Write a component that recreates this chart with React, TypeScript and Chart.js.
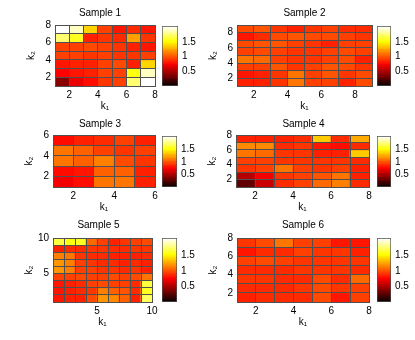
import React, { useEffect, useRef } from 'react';
import { Chart, registerables } from 'chart.js';

Chart.register(...registerables);

// ---------- data ----------
const TITLES = ['Sample 1', 'Sample 2', 'Sample 3', 'Sample 4', 'Sample 5', 'Sample 6'];
const X_LABEL = 'k\u2081';
const Y_LABEL = 'k\u2082';

// rows listed from k2 = 1 (bottom) upward, columns k1 = 1..n
const SAMPLE1 = [
  [0.39, 0.70, 0.80, 0.92, 0.94, 1.75, 2.05],
  [0.74, 0.81, 0.85, 0.94, 0.95, 1.56, 1.90],
  [0.83, 0.85, 0.86, 0.95, 0.98, 0.86, 1.40],
  [0.95, 0.94, 0.92, 0.94, 0.92, 0.90, 0.94],
  [0.95, 0.95, 0.98, 0.95, 0.92, 0.86, 0.81],
  [1.75, 1.60, 0.86, 0.92, 0.89, 1.23, 0.92],
  [2.05, 1.90, 1.39, 0.95, 0.83, 0.89, 0.83],
];
const SAMPLE2 = [
  [0.85, 0.85, 0.91, 1.12, 0.95, 0.94, 0.85, 0.98],
  [0.83, 0.86, 0.92, 1.10, 0.95, 1.01, 0.91, 0.97],
  [0.94, 0.95, 1.01, 0.92, 0.94, 1.01, 0.98, 0.91],
  [1.10, 1.07, 0.94, 0.91, 0.92, 0.95, 0.97, 0.85],
  [0.95, 0.98, 0.94, 0.91, 0.92, 0.94, 0.97, 0.94],
  [0.97, 1.00, 1.00, 0.95, 0.91, 0.85, 0.95, 0.95],
  [0.83, 0.89, 0.97, 1.01, 0.98, 0.98, 0.94, 0.92],
  [0.98, 1.01, 0.92, 0.86, 0.91, 0.94, 0.89, 0.87],
];
const SAMPLE3 = [
  [0.72, 0.78, 1.12, 1.09, 0.86],
  [0.80, 0.82, 1.03, 1.03, 0.86],
  [1.09, 1.03, 1.13, 0.97, 0.92],
  [1.10, 1.04, 0.94, 0.92, 0.95],
  [0.80, 0.86, 0.89, 0.94, 0.86],
];
const SAMPLE4 = [
  [0.27, 0.60, 0.89, 0.95, 1.07, 1.13, 0.88],
  [0.54, 0.72, 0.91, 0.95, 1.01, 1.10, 0.86],
  [0.92, 0.95, 1.10, 0.95, 0.92, 0.94, 0.86],
  [0.94, 0.95, 0.92, 0.92, 0.91, 0.92, 0.89],
  [1.10, 1.07, 0.92, 0.91, 0.85, 0.86, 1.37],
  [1.16, 1.16, 0.89, 0.92, 0.82, 0.79, 0.89],
  [0.85, 0.86, 0.85, 0.89, 1.37, 0.89, 1.25],
];
const SAMPLE5 = [
  [0.83, 0.86, 0.86, 0.98, 1.19, 1.16, 1.04, 0.86, 1.70],
  [0.83, 0.86, 0.88, 0.92, 1.13, 1.04, 1.01, 0.89, 1.59],
  [0.83, 0.85, 0.89, 0.94, 0.98, 0.95, 0.94, 0.89, 1.65],
  [0.95, 0.95, 0.97, 0.95, 0.95, 0.97, 0.95, 0.98, 1.10],
  [1.21, 1.15, 0.95, 0.94, 0.92, 0.91, 0.89, 0.92, 0.86],
  [1.19, 1.13, 0.94, 0.91, 0.89, 0.88, 0.86, 0.89, 0.86],
  [1.13, 1.10, 0.92, 0.89, 0.88, 0.86, 0.85, 0.86, 0.88],
  [0.86, 0.89, 0.88, 0.92, 0.91, 0.89, 0.88, 0.91, 0.92],
  [1.65, 1.56, 1.60, 1.07, 0.95, 0.86, 0.92, 0.95, 0.98],
];
const SAMPLE6 = [
  [0.86, 0.88, 0.88, 0.89, 0.97, 0.83, 0.95],
  [0.88, 0.89, 0.88, 0.91, 0.98, 0.91, 0.95],
  [0.91, 0.91, 0.89, 0.89, 0.97, 0.89, 1.07],
  [0.89, 0.89, 0.88, 0.92, 0.92, 0.92, 0.89],
  [0.94, 0.97, 0.95, 0.92, 0.91, 0.92, 0.91],
  [0.82, 0.88, 0.89, 0.94, 0.91, 0.91, 0.85],
  [0.92, 0.97, 1.10, 0.95, 0.94, 0.83, 0.83],
];
const SAMPLES = [SAMPLE1, SAMPLE2, SAMPLE3, SAMPLE4, SAMPLE5, SAMPLE6];

const TICKS_8 = [2, 4, 6, 8];
const TICKS_6 = [2, 4, 6];
const TICKS_10 = [5, 10];
const X_TICKS = [TICKS_8, TICKS_8, TICKS_6, TICKS_8, TICKS_10, TICKS_8];
const Y_TICKS = [TICKS_8, TICKS_8, TICKS_6, TICKS_8, TICKS_10, TICKS_8];

const C_MIN = 0;
const C_MAX = 2.05;
const CBAR_TICKS = [0.5, 1, 1.5];

// ---------- layout (pixels) ----------
const PLOTS = [
  { L: 55, T: 25, R: 155, B: 86, titleY: 13.5, titleDx: -5 },
  { L: 237, T: 25, R: 372, B: 86, titleY: 13.5, titleDx: 0 },
  { L: 53, T: 135, R: 155, B: 187, titleY: 124, titleDx: -4 },
  { L: 236, T: 135, R: 369, B: 187, titleY: 124, titleDx: 1 },
  { L: 53, T: 238, R: 152, B: 302, titleY: 225, titleDx: -4 },
  { L: 237, T: 238, R: 369, B: 302, titleY: 225, titleDx: 0 },
];
const CBARS = [
  { l: 162, t: 26, r: 178, b: 86 },
  { l: 377, t: 26, r: 391, b: 86 },
  { l: 162, t: 136, r: 177, b: 187 },
  { l: 377, t: 136, r: 391, b: 187 },
  { l: 162, t: 238, r: 177, b: 302 },
  { l: 377, t: 238, r: 391, b: 302 },
];
const Y_AXIS_W = 30;
const X_AXIS_H = 26;
const TITLE_H = 25;
const RIGHT_PAD = 10;
const CB_AXIS_W = 30;
const CB_PAD = 10;

const FONT_FAMILY = "'Liberation Sans', Arial, Helvetica, 'DejaVu Sans', sans-serif";
const FONT = { family: FONT_FAMILY, size: 10, weight: 'normal' as const };
const GRID = '#505050';
const TEXT = '#000000';

// MATLAB "hot" colormap, 64 levels
function hotLevel(k: number): string {
  const m = 64;
  const n = 24;
  const r = k < n ? (k + 1) / n : 1;
  const g = k < n ? 0 : k < 2 * n ? (k + 1 - n) / n : 1;
  const b = k < 2 * n ? 0 : (k + 1 - 2 * n) / (m - 2 * n);
  return `rgb(${Math.round(r * 255)},${Math.round(g * 255)},${Math.round(b * 255)})`;
}
function hot(v: number): string {
  const t = (v - C_MIN) / (C_MAX - C_MIN);
  const k = Math.max(0, Math.min(63, Math.floor(t * 64)));
  return hotLevel(k);
}

// shifts the Chart.js title block horizontally after layout
const titleShift = {
  id: 'titleShift',
  afterLayout(chart: any, _args: any, opts: any) {
    const tb = chart.titleBlock;
    const dx = (opts && opts.dx) || 0;
    if (tb && dx) {
      tb.left += dx;
      tb.right += dx;
    }
  },
};

function makeHeatmap(canvas: HTMLCanvasElement, idx: number) {
  const values = SAMPLES[idx];
  const p = PLOTS[idx];
  const nRows = values.length;
  const nCols = values[0].length;
  const cells: { x: number; y: [number, number] }[] = [];
  const colors: string[] = [];
  values.forEach((row, j) =>
    row.forEach((v, i) => {
      cells.push({ x: i + 1.5, y: [j + 1, j + 2] });
      colors.push(hot(v));
    })
  );
  const tp = p.titleY - 6 - (p.T - TITLE_H);
  const bp = TITLE_H - 12 - tp;
  const xt = X_TICKS[idx];
  const yt = Y_TICKS[idx];
  return new Chart(canvas, {
    type: 'bar',
    plugins: [titleShift],
    data: {
      datasets: [
        {
          data: cells as any,
          backgroundColor: colors,
          borderWidth: 0,
          barPercentage: 1,
          categoryPercentage: 1,
        },
      ],
    },
    options: {
      responsive: false,
      animation: false,
      events: [],
      layout: { padding: { left: 0, right: RIGHT_PAD, top: 0, bottom: 0 } },
      plugins: {
        legend: { display: false },
        tooltip: { enabled: false },
        titleShift: { dx: p.titleDx },
        title: {
          display: true,
          text: TITLES[idx],
          fullSize: false,
          color: TEXT,
          font: FONT,
          padding: { top: tp, bottom: bp },
        },
      } as any,
      scales: {
        x: {
          type: 'linear',
          min: 1,
          max: nCols + 1,
          offset: false,
          grid: { display: true, offset: false, drawTicks: false, color: GRID, lineWidth: 1, z: 1 },
          border: { display: true, color: GRID, z: 1 },
          ticks: {
            stepSize: 1,
            autoSkip: false,
            maxRotation: 0,
            minRotation: 0,
            padding: 3,
            color: TEXT,
            font: FONT,
            callback: (v: any) => (xt.includes(Number(v)) ? String(v) : ''),
          },
          title: { display: true, text: X_LABEL, padding: 0, color: TEXT, font: FONT },
          afterFit: (s: any) => {
            s.height = X_AXIS_H;
          },
        },
        y: {
          type: 'linear',
          min: 1,
          max: nRows + 1,
          grid: { display: true, drawTicks: false, color: GRID, lineWidth: 1, z: 1 },
          border: { display: true, color: GRID, z: 1 },
          ticks: {
            stepSize: 1,
            autoSkip: false,
            padding: 4,
            color: TEXT,
            font: FONT,
            callback: (v: any) => (yt.includes(Number(v)) ? String(v) : ''),
          },
          title: { display: true, text: Y_LABEL, padding: 0, color: TEXT, font: FONT },
          afterFit: (s: any) => {
            s.width = Y_AXIS_W;
          },
        },
      },
    },
  });
}

function makeColorbar(canvas: HTMLCanvasElement) {
  return new Chart(canvas, {
    type: 'bar',
    data: {
      labels: [''],
      datasets: [
        {
          data: [[C_MIN, C_MAX]] as any,
          backgroundColor: (ctx: any) => {
            const chart = ctx.chart;
            const ys = chart.scales && chart.scales.y;
            if (!chart.chartArea || !ys) return '#ff0000';
            const y0 = ys.getPixelForValue(C_MIN);
            const y1 = ys.getPixelForValue(C_MAX);
            const g = chart.ctx.createLinearGradient(0, y0, 0, y1);
            for (let k = 0; k < 64; k++) {
              const c = hotLevel(k);
              g.addColorStop(k / 64, c);
              g.addColorStop((k + 1) / 64, c);
            }
            return g;
          },
          borderColor: GRID,
          borderWidth: 1,
          borderSkipped: false,
          barPercentage: 1,
          categoryPercentage: 1,
        },
      ],
    },
    options: {
      responsive: false,
      animation: false,
      events: [],
      layout: { padding: { left: 0, right: 0, top: CB_PAD, bottom: CB_PAD } },
      plugins: { legend: { display: false }, tooltip: { enabled: false }, title: { display: false } },
      scales: {
        x: { display: false, offset: true },
        y: {
          type: 'linear',
          position: 'right',
          min: C_MIN,
          max: C_MAX,
          grid: { display: false, drawTicks: false },
          border: { display: false },
          afterBuildTicks: (s: any) => {
            s.ticks = CBAR_TICKS.map((v) => ({ value: v }));
          },
          ticks: { padding: 4, color: TEXT, font: FONT, callback: (v: any) => String(v) },
          afterFit: (s: any) => {
            s.width = CB_AXIS_W;
          },
        },
      },
    },
  });
}

export default function App() {
  const heatRefs = useRef<(HTMLCanvasElement | null)[]>([]);
  const cbRefs = useRef<(HTMLCanvasElement | null)[]>([]);

  useEffect(() => {
    const charts: Chart[] = [];
    PLOTS.forEach((_, i) => {
      const hc = heatRefs.current[i];
      const cc = cbRefs.current[i];
      if (hc) charts.push(makeHeatmap(hc, i));
      if (cc) charts.push(makeColorbar(cc));
    });
    return () => charts.forEach((c) => c.destroy());
  }, []);

  return (
    <div style={{ position: 'absolute', left: 0, top: 0, width: 415, height: 340, background: '#fff' }}>
      {PLOTS.map((p, i) => {
        const hl = p.L - Y_AXIS_W;
        const ht = p.T - TITLE_H;
        const hw = p.R - p.L + Y_AXIS_W + RIGHT_PAD;
        const hh = p.B - p.T + TITLE_H + X_AXIS_H;
        const cb = CBARS[i];
        const cl = cb.l;
        const ct = cb.t - CB_PAD;
        const cw = cb.r - cb.l + CB_AXIS_W;
        const ch = cb.b - cb.t + 2 * CB_PAD;
        return (
          <React.Fragment key={i}>
            <canvas
              ref={(el) => {
                heatRefs.current[i] = el;
              }}
              width={hw}
              height={hh}
              style={{ position: 'absolute', left: hl, top: ht, width: hw, height: hh }}
            />
            <canvas
              ref={(el) => {
                cbRefs.current[i] = el;
              }}
              width={cw}
              height={ch}
              style={{ position: 'absolute', left: cl, top: ct, width: cw, height: ch }}
            />
          </React.Fragment>
        );
      })}
    </div>
  );
}
